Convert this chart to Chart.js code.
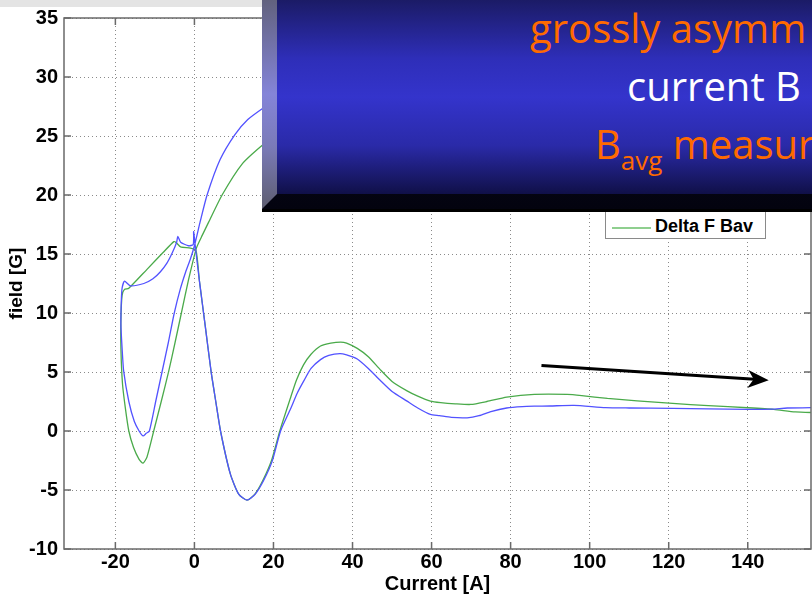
<!DOCTYPE html>
<html><head><meta charset="utf-8">
<script src="https://cdn.jsdelivr.net/npm/chart.js@4.4.1/dist/chart.umd.min.js"></script>
<style>
html,body{margin:0;padding:0;background:#fff;overflow:hidden;}
#wrap{position:relative;width:812px;height:599px;overflow:hidden;}
#band{position:absolute;left:0;top:0;width:812px;height:7px;background:#e4e4e4;}
#c{position:absolute;left:0;top:0;}
#legend{position:absolute;left:605px;top:196px;width:161px;height:43px;background:#fff;border:1px solid #8a8a8a;box-sizing:border-box;}
#legend .ln{position:absolute;left:6px;top:30px;width:39px;height:0;border-top:2px solid #8fcf8f;}
#legend .tx{position:absolute;left:49px;top:19px;font:bold 18px "Liberation Sans",Arial,sans-serif;color:#000;white-space:nowrap;}
#box{position:absolute;left:262px;top:0;width:600px;height:212px;background:#000;overflow:hidden;}
#bottomf{position:absolute;left:0;top:0;width:600px;height:209px;background:linear-gradient(#0c0c2c,#03030f);}
#leftf{position:absolute;left:0;top:0;width:15px;height:209px;clip-path:polygon(0 0,100% 0,100% 194px,0 209px);background:linear-gradient(#62627e 0%,#8484d8 45%,#7a7ab8 70%,#5e5e70 100%);}
#front{position:absolute;left:15px;top:0;width:585px;height:194px;background:linear-gradient(#1b1b66 0%,#2e2eb8 30%,#3434cc 50%,#2a2aa8 75%,#101048 100%);}
.t{position:absolute;font-family:"Open Sans",sans-serif;font-size:40px;line-height:40px;white-space:nowrap;}
.o{color:#ff6a00;}
.w{color:#fff;}
sub{font-size:26px;vertical-align:baseline;position:relative;top:11px;}
</style></head>
<body><div id="wrap">
<div id="band"></div>
<canvas id="c" width="812" height="599"></canvas>
<div id="legend"><div class="ln"></div><div class="tx">Delta F Bav</div></div>
<div id="box"><div id="bottomf"></div><div id="leftf"></div><div id="front"></div>
<div class="t o" style="left:268px;top:8px;">grossly asymm</div>
<div class="t w" style="left:365px;top:66px;">current B</div>
<div class="t o" style="left:333px;top:124px;">B<sub>avg</sub> measur</div>
</div>
</div>
<script>
const xTicks = [-20, 0, 20, 40, 60, 80, 100, 120, 140];
const yTicks = [-10, -5, 0, 5, 10, 15, 20, 25, 30, 35];

const blueCurrent = [158,150,146,140,130,121,110,104,96,90,86,83,79,75,72,69,65,62,59.7,56.5,53.8,50,47,44,41.2,38.5,36.8,34,31.9,29.5,27.6,26,24.3,21.8,19.7,17.5,15.4,13.3,11.2,9.1,6.6,5.4,4.2,2.7,1.27,0.3,-0.2,-0.3,-1.5,-3.5,-4.2,-4.5,-5.6,-7,-8.6,-10.5,-12.8,-16.2,-17.7,-18.3,-18.5,-18.6,-18.3,-17.9,-16.6,-15.2,-14,-13,-12.2,-11.4,-9.8,-8.2,-6.6,-5.1,-3.6,-2.2,-1,0,1.5,3.2,6.5,10.2,13.5,17.5,22,30,40];
const blueField   = [2.0,1.95,1.85,1.83,1.88,1.92,1.95,1.98,2.17,2.12,2.1,2.07,1.95,1.65,1.3,1.12,1.15,1.3,1.4,1.95,2.53,3.35,4.3,5.3,6.1,6.45,6.56,6.4,6.05,5.3,4.2,3.2,1.86,0,-2.53,-4.2,-5.35,-5.85,-5.35,-3.66,0,2.5,5.07,9,12.7,15.4,16.9,15.8,15.7,16.0,16.5,16.0,15.1,14.2,13.5,12.9,12.5,12.3,12.7,12.1,11,9,7,5.07,2.5,0.8,0,-0.42,-0.2,0,2.5,5,7.5,10,12,13.5,14.6,15.7,17.8,20,23,25.1,26.4,27.4,28.4,29.6,30.6];

const greenCurrent = [158,152,146.6,140,130,121,112,104.5,98,94.3,86,79,74,69.9,66,62.3,59.7,56.5,53.8,50,47,44,41.2,38.5,37,34.5,31.9,29.5,27.6,25.8,24.3,21.6,19.5,17.3,15.3,13.3,11.2,9.1,6.6,5.4,4.2,2.7,1.27,0.4,-1,-3.5,-4.6,-5.2,-8,-12,-16.6,-17.7,-18.3,-18.6,-18.6,-18.2,-17.5,-16.6,-15.4,-14,-13,-12,-10.3,-8.4,-6.5,-4.9,-3.3,-1.5,0.5,2,3.6,7,12,17.1,22,30,40];
const greenField   = [1.55,1.62,1.83,1.97,2.15,2.34,2.55,2.76,3.0,3.1,3.1,2.87,2.5,2.25,2.3,2.4,2.53,2.95,3.4,4.2,5.2,6.3,7.0,7.45,7.54,7.45,7.2,6.5,5.6,4.3,2.8,0,-2.5,-4.2,-5.35,-5.85,-5.35,-3.66,0,2.5,5.07,9,12.7,15.3,15.5,15.6,15.96,16.05,15.1,13.7,12.1,12.0,11.5,9.5,7,4,2,0,-1.4,-2.4,-2.73,-2.2,0,2.5,5.07,7.5,10,12.8,15.5,16.6,17.7,20,22.6,24.2,25.3,26.6,27.5];

const arrowFrom = {x: 87.8, y: 5.55};
const arrowTo = {x: 145.3, y: 4.3};

const pts = (xs, ys) => xs.map((v, i) => ({x: v, y: ys[i]}));

const framePlugin = {
  id: 'frame',
  afterDatasetsDraw(chart) {
    const {ctx, chartArea: a, scales: {x, y}} = chart;
    ctx.save();
    ctx.strokeStyle = '#6a6a6a';
    ctx.lineWidth = 1.5;
    ctx.strokeRect(a.left, a.top, a.right - a.left, a.bottom - a.top);
    ctx.beginPath();
    x.ticks.forEach(t => {
      const p = x.getPixelForValue(t.value);
      ctx.moveTo(p, a.bottom); ctx.lineTo(p, a.bottom - 7);
      ctx.moveTo(p, a.top); ctx.lineTo(p, a.top + 7);
    });
    y.ticks.forEach(t => {
      const p = y.getPixelForValue(t.value);
      ctx.moveTo(a.left, p); ctx.lineTo(a.left + 7, p);
      ctx.moveTo(a.right, p); ctx.lineTo(a.right - 7, p);
    });
    ctx.stroke();
    const x0 = x.getPixelForValue(arrowFrom.x), y0 = y.getPixelForValue(arrowFrom.y);
    const x1 = x.getPixelForValue(arrowTo.x), y1 = y.getPixelForValue(arrowTo.y);
    const ang = Math.atan2(y1 - y0, x1 - x0);
    const L = 18, W = 9;
    const bx = x1 - L * Math.cos(ang), by = y1 - L * Math.sin(ang);
    ctx.strokeStyle = '#000';
    ctx.fillStyle = '#000';
    ctx.lineWidth = 3;
    ctx.beginPath();
    ctx.moveTo(x0, y0);
    ctx.lineTo(bx + 4 * Math.cos(ang), by + 4 * Math.sin(ang));
    ctx.stroke();
    ctx.beginPath();
    ctx.moveTo(x1, y1);
    ctx.lineTo(bx - W * Math.sin(ang) - 3 * Math.cos(ang), by + W * Math.cos(ang) - 3 * Math.sin(ang));
    ctx.lineTo(bx + 3 * Math.cos(ang), by + 3 * Math.sin(ang));
    ctx.lineTo(bx + W * Math.sin(ang) - 3 * Math.cos(ang), by - W * Math.cos(ang) - 3 * Math.sin(ang));
    ctx.closePath();
    ctx.fill();
    ctx.restore();
  }
};

const tickFont = {family: '"Liberation Sans", Arial, sans-serif', size: 20, weight: 'bold'};

new Chart(document.getElementById('c'), {
  type: 'scatter',
  data: {
    datasets: [
      {label: 'Bav', data: pts(blueCurrent, blueField), showLine: true, borderColor: '#5252ff', borderWidth: 1.3, pointRadius: 0, tension: 0.2},
      {label: 'Delta F Bav', data: pts(greenCurrent, greenField), showLine: true, borderColor: '#4aaa4a', borderWidth: 1.3, pointRadius: 0, tension: 0.2}
    ]
  },
  options: {
    responsive: false,
    animation: false,
    events: [],
    layout: {padding: {top: 16, right: 1, left: 0, bottom: 0}},
    plugins: {legend: {display: false}, tooltip: {enabled: false}},
    scales: {
      x: {
        type: 'linear', min: -33, max: 156,
        afterBuildTicks: s => { s.ticks = xTicks.map(v => ({value: v})); },
        afterFit: s => { s.height = 50; },
        grid: {color: '#8a8a8a', drawTicks: false, lineWidth: 1},
        border: {display: false, dash: [1, 3]},
        ticks: {font: tickFont, color: '#000', padding: 1, maxRotation: 0},
        title: {display: true, text: 'Current [A]', font: tickFont, color: '#000', padding: {top: 0, bottom: 3}}
      },
      y: {
        type: 'linear', min: -10, max: 35,
        afterBuildTicks: s => { s.ticks = yTicks.map(v => ({value: v})); },
        afterFit: s => { s.width = 64; },
        grid: {color: '#8a8a8a', drawTicks: false, lineWidth: 1},
        border: {display: false, dash: [1, 3]},
        ticks: {font: tickFont, color: '#000', padding: 6},
        title: {display: true, text: 'field [G]', font: {family: '"Liberation Sans", Arial, sans-serif', size: 19, weight: 'bold'}, color: '#000', padding: {top: 5, bottom: 0}}
      }
    }
  },
  plugins: [framePlugin]
});
</script>
</body></html>
